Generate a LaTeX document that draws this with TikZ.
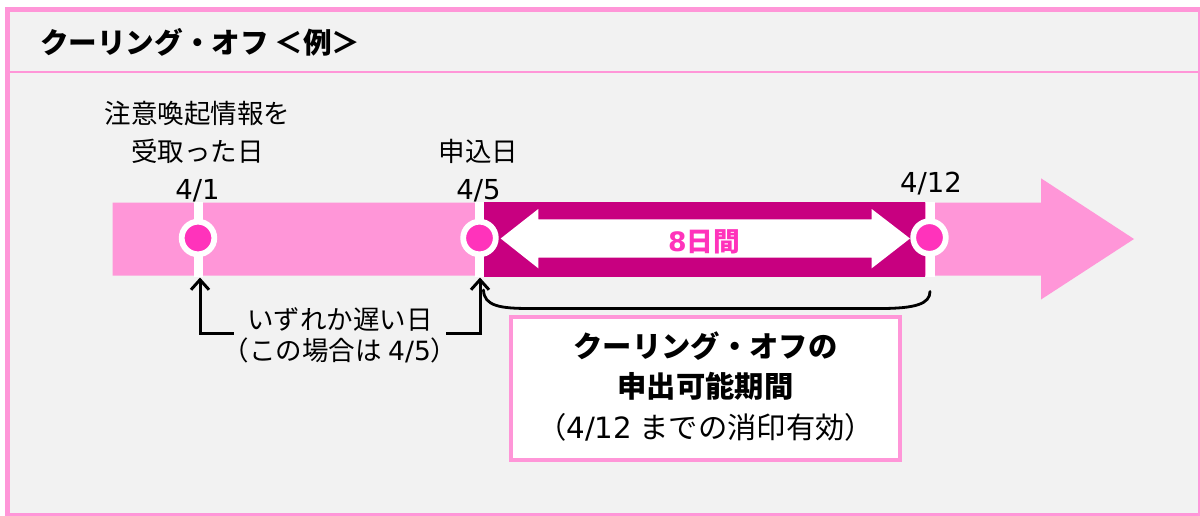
\documentclass[tikz,border=0pt]{standalone}
\usepackage{fontspec}
\setmainfont{DejaVu Sans}
\newfontfamily\jp{Noto Sans CJK JP}
\usetikzlibrary{arrows.meta}
\definecolor{lpink}{RGB}{255,150,216}
\definecolor{dmag}{RGB}{200,0,128}
\definecolor{hpink}{RGB}{255,51,187}
\definecolor{bgc}{RGB}{242,242,242}
\tikzset{
  txt/.style={inner sep=0pt, anchor=base, font=\fontsize{26.5}{30}\selectfont\jp},
  datelbl/.style={inner sep=0pt, anchor=base, font=\fontsize{27.5}{30}\selectfont},
  boxtxt/.style={inner sep=0pt, anchor=base, font=\fontsize{29.3}{32}\selectfont\jp},
  titletxt/.style={inner sep=0pt, anchor=base west, font=\fontsize{28.6}{32}\selectfont\jp\bfseries},
  dot/.style={circle, fill=hpink, draw=white, line width=5.8pt, minimum size=32.6pt, inner sep=0pt},
  conn/.style={line width=3pt, line cap=rect, -{Straight Barb[length=10pt,width=18pt,line width=3pt]}},
  bracecurve/.style={line width=2.8pt, line cap=round},
  infobox/.style={draw=lpink, line width=4pt, fill=white, minimum width=388.4pt, minimum height=142.7pt, inner sep=0pt},
  tick/.style={fill=white}
}
\begin{document}
\begin{tikzpicture}[x=1pt,y=-1pt]
\useasboundingbox (0,0) rectangle (1200,515);
\fill[white] (0,0) rectangle (1200,515);
% frame
\draw[lpink, line width=4.5pt, fill=bgc] (7.5,9.5) rectangle (1200,515);
\draw[lpink, line width=2pt] (9.7,71.7) -- (1200,71.7);
\node[titletxt] (title) at (40,53) {クーリング・オフ\hspace{0.2em}＜例＞};
% timeline bar
\fill[lpink] (112.5,202.5) -- (1041,202.5) -- (1041,178.3) -- (1134,239) -- (1041,299.5) -- (1041,275.5) -- (112.5,275.5) -- cycle;
\fill[dmag] (483.5,202.3) rectangle (925,276.7);
% white double arrow
\fill[white] (500.7,238.5) -- (538.3,209) -- (538.3,219.3) -- (871.7,219.3) -- (871.7,209) -- (910,238.5) -- (871.7,268.3) -- (871.7,257.7) -- (538.3,257.7) -- (538.3,268.3) -- cycle;
\node[inner sep=0pt, anchor=base, font=\fontsize{26.7}{30}\selectfont\bfseries, text=hpink] (days) at (704,251.6) {8{\jp 日間}};
% ticks
\fill[tick] (193.5,202.3) rectangle (202.5,276.7);
\fill[tick] (474.5,202.3) rectangle (483.5,276.7);
\fill[tick] (925.5,202.3) rectangle (934.5,276.7);
% dots
\node[dot] (d1) at (198,238) {};
\node[dot] (d2) at (479.5,238) {};
\node[dot] (d3) at (929.5,237.5) {};
% date labels
\node[datelbl] (l1) at (197.5,199) {4/1};
\node[datelbl] (l2) at (478.5,199) {4/5};
\node[datelbl] (l3) at (931,192) {4/12};
\node[txt] (recv1) at (197.5,123) {注意喚起情報を};
\node[txt] (recv2) at (197.5,161) {受取った日};
\node[txt] (apply) at (478.5,161) {申込日};
% later-date arrows
\node[txt] (late1) at (340,329) {いずれか遅い日};
\node[txt] (late2) at (340,360) {（この場合は\hspace{0.25em}{\rmfamily 4/5}）};
\coordinate (s1) at (232,333);
\coordinate (t1) at (200,277.5);
\coordinate (s2) at (447,333);
\coordinate (t2) at (480,277.5);
\draw[conn] (s1) -| (t1);
\draw[conn] (s2) -| (t2);
% brace
\coordinate (b1) at (483.5,290);
\coordinate (b2) at (930,291.5);
\draw[bracecurve] (b1) .. controls (484,306) and (500,308.5) .. (530,308.5) -- (880,308.5) .. controls (915,308.5) and (930,304) .. (b2);
% info box
\node[infobox] (box) at (705.5,388.3) {};
\node[boxtxt, font=\fontsize{29.3}{32}\selectfont\jp\bfseries] (bx1) at (705.5,357.8) {クーリング・オフの};
\node[boxtxt, font=\fontsize{29.3}{32}\selectfont\jp\bfseries] (bx2) at (705.5,397.8) {申出可能期間};
\node[boxtxt] (bx3) at (705.5,438.6) {（{\rmfamily 4/12}\hspace{0.25em}までの消印有効）};
\end{tikzpicture}
\end{document}
